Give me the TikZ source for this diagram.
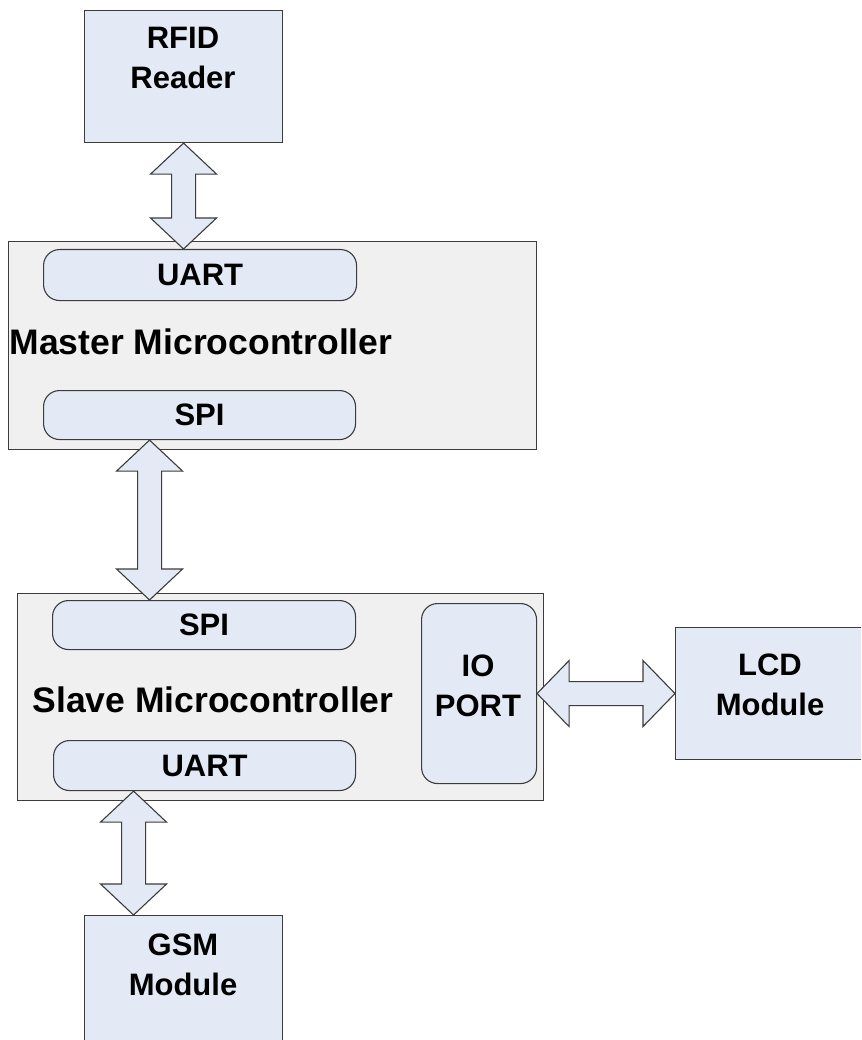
\documentclass[tikz,border=0pt]{standalone}
\usepackage{fontspec}
\setmainfont{Liberation Sans}
\usetikzlibrary{calc}

\definecolor{boxblue}{RGB}{228,234,245}
\definecolor{panelgray}{RGB}{240,240,240}
\definecolor{edge}{RGB}{60,60,60}

\tikzset{
  unit/.style={draw=edge, fill=boxblue, line width=1.1pt, anchor=north west, inner sep=0pt},
  panel/.style={draw=edge, fill=panelgray, line width=1.1pt, anchor=north west, inner sep=0pt},
  port/.style={unit, rounded corners=16pt, font=\fontsize{31}{40}\selectfont\bfseries},
  lbl/.style={inner sep=0pt, align=center, font=\fontsize{31}{40}\selectfont\bfseries},
  biglbl/.style={inner sep=0pt, font=\fontsize{35.5}{40}\selectfont\bfseries},
  barrow/.style={draw=edge, fill=boxblue, line width=1.1pt, line join=miter},
}

% vertical two-headed block arrow: x and top tip from #1, bottom tip from #2
\newcommand{\vbiarrow}[2]{%
  \draw[barrow] let \p1=#1, \p2=#2 in
    (\x1,\y1) -- (\x1+33pt,\y1-31pt) -- (\x1+12pt,\y1-31pt)
    -- (\x1+12pt,\y2+31pt) -- (\x1+33pt,\y2+31pt) -- (\x1,\y2)
    -- (\x1-33pt,\y2+31pt) -- (\x1-12pt,\y2+31pt)
    -- (\x1-12pt,\y1-31pt) -- (\x1-33pt,\y1-31pt) -- cycle;}
% horizontal two-headed block arrow: y and left tip from #1, right tip from #2
\newcommand{\hbiarrow}[2]{%
  \draw[barrow] let \p1=#1, \p2=#2 in
    (\x1,\y1) -- (\x1+32pt,\y1+33pt) -- (\x1+32pt,\y1+12pt)
    -- (\x2-32pt,\y1+12pt) -- (\x2-32pt,\y1+33pt) -- (\x2,\y1)
    -- (\x2-32pt,\y1-33pt) -- (\x2-32pt,\y1-12pt)
    -- (\x1+32pt,\y1-12pt) -- (\x1+32pt,\y1-33pt) -- cycle;}

\begin{document}
\begin{tikzpicture}[x=1pt, y=-1pt]
  \clip (0,0) rectangle (861,1040);
  \fill[white] (0,0) rectangle (861,1040);

  % RFID reader
  \node[unit, minimum width=198pt, minimum height=132pt] (rfid) at (84,10) {};
  \node[lbl] (rfidtxt) at (183,57.5) {RFID\\Reader};

  % master controller with its UART and SPI ports
  \node[panel, minimum width=528pt, minimum height=208pt] (master) at (8,241) {};
  \node[port, minimum width=313pt, minimum height=51pt] (muart) at (43,249) {UART};
  \node[biglbl] (mastertxt) at (201,342) {Master Microcontroller};
  \node[port, minimum width=312pt, minimum height=49pt] (mspi) at (43,390) {SPI};

  % slave controller with SPI, UART and IO port
  \node[panel, minimum width=526pt, minimum height=207pt] (slave) at (17,593) {};
  \node[port, minimum width=303pt, minimum height=49pt] (sspi) at (52,600) {SPI};
  \node[biglbl] (slavetxt) at (213,700) {Slave Microcontroller};
  \node[port, minimum width=302pt, minimum height=50pt] (suart) at (53,740) {};
  \node[lbl] (suarttxt) at (suart.center) {UART};
  \node[unit, rounded corners=16pt, minimum width=115pt, minimum height=180pt] (io) at (421,603) {};
  \node[lbl] (iotxt) at (478,685.5) {IO\\PORT};

  % LCD module (runs past the right edge)
  \node[unit, minimum width=230pt, minimum height=132pt] (lcd) at (675,627) {};
  \node[lbl] (lcdtxt) at (770,685) {LCD\\Module};

  % GSM module (runs past the bottom edge)
  \node[unit, minimum width=198pt, minimum height=140pt] (gsm) at (84,915) {};
  \node[lbl] (gsmtxt) at (183,965) {GSM\\Module};

  % links
  \vbiarrow{(rfid.south)}{(muart.north)}
  \vbiarrow{([xshift=-50pt]mspi.south)}{(sspi.north)}
  \vbiarrow{([xshift=-71pt]suart.south)}{(gsm.north)}
  \hbiarrow{(io.east)}{(lcd.west)}
\end{tikzpicture}
\end{document}
